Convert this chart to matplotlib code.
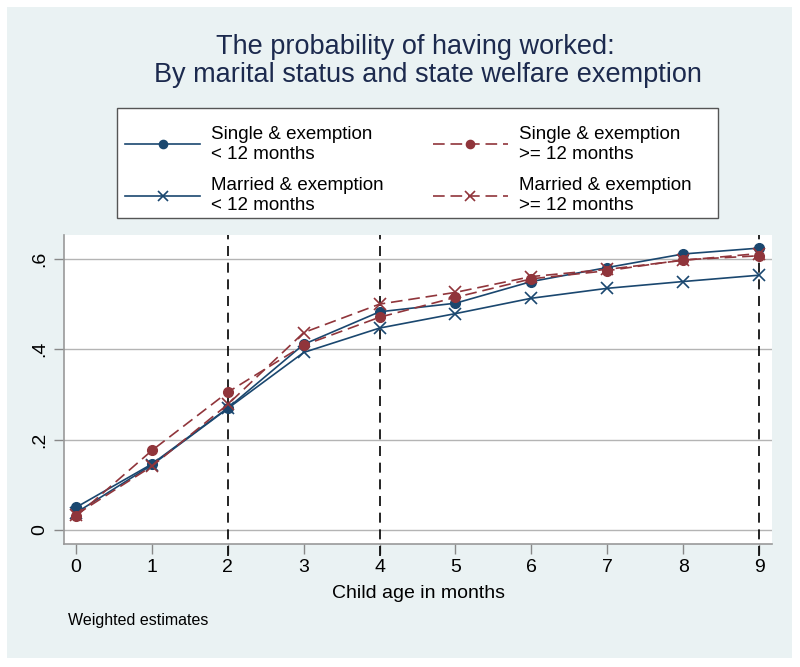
import numpy as np
import matplotlib.pyplot as plt
from matplotlib.patches import Rectangle

plt.rcParams['font.family'] = ['Liberation Sans', 'DejaVu Sans']

# Child age in months
months = np.arange(10)

# Probability of having worked
single_lt12 = [0.050, 0.146, 0.270, 0.411, 0.483, 0.502, 0.550, 0.581, 0.611, 0.624]
single_ge12 = [0.030, 0.176, 0.305, 0.409, 0.471, 0.515, 0.556, 0.574, 0.598, 0.607]
married_lt12 = [0.038, 0.144, 0.269, 0.393, 0.447, 0.479, 0.513, 0.535, 0.550, 0.564]
married_ge12 = [0.034, 0.141, 0.278, 0.437, 0.500, 0.526, 0.561, 0.577, 0.597, 0.612]

xlines = [2, 4, 9]
yticks = [0, 0.2, 0.4, 0.6]
ytick_labels = ['0', '.2', '.4', '.6']

blue = '#1a476f'
red = '#90353b'

W, H = 800, 667
fig = plt.figure(figsize=(8, 6.67), dpi=100, facecolor='white')
# light graph region background (Stata s2color look)
fig.patches.append(Rectangle((7 / W, 9 / H), 785 / W, 651 / H,
                             transform=fig.transFigure, facecolor='#eaf2f3',
                             edgecolor='none', zorder=-10))
# legend frame
fig.patches.append(Rectangle((117 / W, 1 - 218 / H), 601 / W, 110 / H,
                             transform=fig.transFigure, facecolor='white',
                             edgecolor='#555555', lw=1.0, zorder=-5))

ax = fig.add_axes([64 / W, 123 / H, 708 / W, 309 / H])
ax.set_facecolor('white')

for ytk in yticks:
    ax.axhline(ytk, color='#b4b4b4', lw=1.0, zorder=1)
for xl in xlines:
    ax.axvline(xl, ymin=-0.04, ymax=1, color='black', lw=1.2,
               dashes=(6, 4), clip_on=False, zorder=2)

ax.plot(months, single_lt12, color=blue, lw=1.2, marker='o', ms=7,
        label='Single & exemption\n< 12 months', zorder=3)
ax.plot(months, married_lt12, color=blue, lw=1.2, marker='x', ms=9, mew=1.2,
        label='Married & exemption\n< 12 months', zorder=3)
ax.plot(months, single_ge12, color=red, lw=1.2, ls=(0, (7, 3.5)), marker='o', ms=7,
        label='Single & exemption\n>= 12 months', zorder=3)
ax.plot(months, married_ge12, color=red, lw=1.2, ls=(0, (7, 3.5)), marker='x', ms=9,
        mew=1.2, label='Married & exemption\n>= 12 months', zorder=3)

ax.set_xlim(-0.158, 9.17)
ax.set_ylim(-0.031, 0.653)
ax.set_xticks(months)
ax.set_yticks(yticks)
ax.set_yticklabels(ytick_labels, rotation=90, va='center')
ax.tick_params(axis='both', labelsize=14, length=7, color='#888888', width=1)
ax.tick_params(axis='y', pad=4)

for side in ['top', 'right']:
    ax.spines[side].set_visible(False)
for side in ['left', 'bottom']:
    ax.spines[side].set_color('#999999')
    ax.spines[side].set_linewidth(1.2)

ax.set_xlabel('Child age in months', fontsize=14, labelpad=7)

fig.text(415 / W, 1 - 47 / H, 'The probability of having worked:',
         ha='center', va='center', fontsize=19.5, color='#1c2a4e')
fig.text(428 / W, 1 - 75 / H, 'By marital status and state welfare exemption',
         ha='center', va='center', fontsize=19.5, color='#1c2a4e')

fig.text(68 / W, 1 - 620 / H, 'Weighted estimates', fontsize=11.5, va='center')

leg = fig.legend(loc='center left', ncol=2,
                 bbox_to_anchor=(125 / W, 1 - 170 / H),
                 fontsize=13.5, handlelength=4.0, handletextpad=0.6,
                 labelspacing=0.78, borderpad=0, borderaxespad=0,
                 columnspacing=2.6, frameon=False, markerscale=0.85)
for t in leg.get_texts():
    t.set_linespacing(1.23)

fig.savefig('out.png', dpi=100, facecolor='white')
